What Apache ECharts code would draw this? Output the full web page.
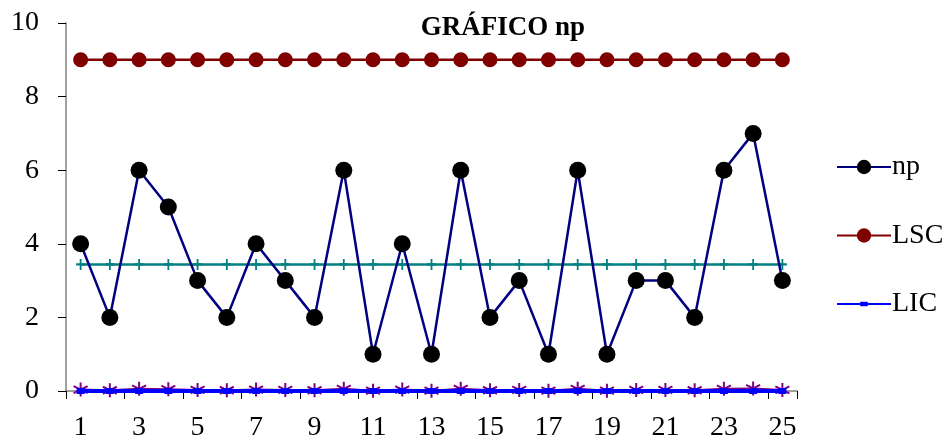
<!DOCTYPE html>
<html>
<head>
<meta charset="utf-8">
<script src="https://cdn.jsdelivr.net/npm/echarts@6/dist/echarts.min.js"></script>
<style>
  html, body { margin: 0; padding: 0; background: #fff; }
  #chart { width: 948px; height: 443px; }
</style>
</head>
<body>
<div id="chart"></div>
<script>
// Sample numbers (subgroups 1..25)
const categories = ['1','2','3','4','5','6','7','8','9','10','11','12','13','14','15','16','17','18','19','20','21','22','23','24','25'];
// Number of defectives per subgroup
const npValues = [4, 2, 6, 5, 3, 2, 4, 3, 2, 6, 1, 4, 1, 6, 2, 3, 1, 6, 1, 3, 3, 2, 6, 7, 3];
// Upper control limit
const lscValues = [9, 9, 9, 9, 9, 9, 9, 9, 9, 9, 9, 9, 9, 9, 9, 9, 9, 9, 9, 9, 9, 9, 9, 9, 9];
// Lower control limit
const licValues = [0, 0, 0, 0, 0, 0, 0, 0, 0, 0, 0, 0, 0, 0, 0, 0, 0, 0, 0, 0, 0, 0, 0, 0, 0];
// Center line (mean np)
const lcValues = [3.44, 3.44, 3.44, 3.44, 3.44, 3.44, 3.44, 3.44, 3.44, 3.44, 3.44, 3.44, 3.44, 3.44, 3.44, 3.44, 3.44, 3.44, 3.44, 3.44, 3.44, 3.44, 3.44, 3.44, 3.44];
// Fraction defective per subgroup
const pValues = [0.04, 0.02, 0.06, 0.05, 0.03, 0.02, 0.04, 0.03, 0.02, 0.06, 0.01, 0.04, 0.01, 0.06, 0.02, 0.03, 0.01, 0.06, 0.01, 0.03, 0.03, 0.02, 0.06, 0.07, 0.03];
// Axis range and tick step
const yMin = 0, yMax = 10, yStep = 2;

const serif = '"Liberation Serif", "Times New Roman", serif';
const plusPath = 'path://M0,-5L0,5M-5,0L5,0';
const starPath = 'path://M0,-5L0,5M-4.33,-2.5L4.33,2.5M-4.33,2.5L4.33,-2.5';
// Legend glyph for LIC: thin line with a small square marker in the middle
const licIcon = 'path://M0,8L58,8L58,10L0,10ZM25,6.5L33,6.5L33,11.5L25,11.5Z';

const chart = echarts.init(document.getElementById('chart'), null, { renderer: 'canvas' });
chart.setOption({
  animation: false,
  backgroundColor: '#ffffff',
  title: {
    text: 'GRÁFICO np',
    left: 498, top: 10, textAlign: 'center',
    textStyle: { fontFamily: serif, fontSize: 27, fontWeight: 'bold', color: '#000' }
  },
  grid: { left: 66, right: 151, top: 23, bottom: 52, containLabel: false },
  legend: {
    orient: 'vertical',
    left: 831, top: 148,
    itemWidth: 54, itemHeight: 18, itemGap: 40.5,
    data: ['np', 'LSC', { name: 'LIC', icon: licIcon }],
    textStyle: { fontFamily: serif, fontSize: 28, color: '#000', padding: [0, 0, 0, -4] }
  },
  xAxis: {
    type: 'category',
    data: categories,
    boundaryGap: true,
    axisLine: { lineStyle: { color: '#808080', width: 1.5 } },
    axisTick: { show: true, length: 8, inside: false, lineStyle: { color: '#000' }, alignWithLabel: false },
    axisLabel: {
      interval: 1, margin: 23,
      fontFamily: serif, fontSize: 28, color: '#000'
    },
    splitLine: { show: false }
  },
  yAxis: {
    type: 'value',
    min: yMin, max: yMax, interval: yStep,
    axisLine: { show: true, lineStyle: { color: '#808080', width: 1.5 } },
    axisTick: { show: true, length: 8, lineStyle: { color: '#000' } },
    axisLabel: { margin: 27, fontFamily: serif, fontSize: 28, color: '#000' },
    splitLine: { show: false }
  },
  series: [
    {
      name: 'p',
      type: 'line',
      data: pValues,
      symbol: starPath,
      symbolSize: 14,
      lineStyle: { color: '#800080', width: 2 },
      itemStyle: { color: '#800080', borderColor: '#800080', borderWidth: 2 },
      z: 2
    },
    {
      name: 'LIC',
      type: 'line',
      data: licValues,
      symbol: 'rect',
      symbolSize: [8, 6],
      lineStyle: { color: '#0000FF', width: 4 },
      itemStyle: { color: '#0000FF' },
      z: 3
    },
    {
      name: 'LC',
      type: 'line',
      data: lcValues,
      symbol: plusPath,
      symbolSize: [9, 11],
      lineStyle: { color: '#008080', width: 2.5 },
      itemStyle: { color: '#008080', borderColor: '#008080', borderWidth: 2 },
      z: 3
    },
    {
      name: 'LSC',
      type: 'line',
      data: lscValues,
      symbol: 'circle',
      symbolSize: 15,
      lineStyle: { color: '#800000', width: 2.5 },
      itemStyle: { color: '#800000' },
      z: 4
    },
    {
      name: 'np',
      type: 'line',
      data: npValues,
      symbol: 'circle',
      symbolSize: 17,
      lineStyle: { color: '#000080', width: 2.5 },
      itemStyle: { color: '#000000' },
      z: 5
    }
  ]
});
</script>
</body>
</html>
